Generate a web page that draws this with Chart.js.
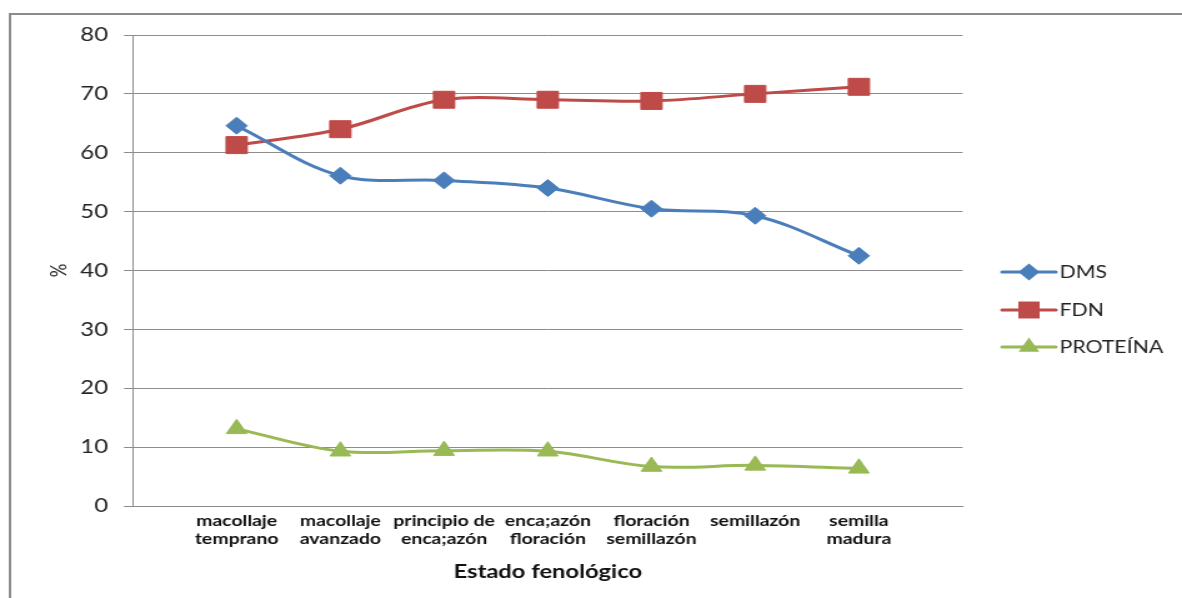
<!DOCTYPE html>
<html>
<head>
<meta charset="utf-8">
<title>Estado fenológico</title>
<script src="https://cdn.jsdelivr.net/npm/chart.js@4/dist/chart.umd.min.js"></script>
<style>
  html, body { margin: 0; padding: 0; background: #fff; overflow: hidden; }
  #wrap { width: 1182px; height: 598px; overflow: hidden; }
  #c { display: block; transform-origin: 0 0; transform: scaleX(1.2495); }
</style>
</head>
<body>
<div id="wrap"><canvas id="c" width="946" height="598" style="width:946px;height:598px"></canvas></div>
<script>
// Phenological stages (x axis)
const categories = [
  ['macollaje', 'temprano'],
  ['macollaje', 'avanzado'],
  ['principio de', 'enca;azón'],
  ['enca;azón', 'floración'],
  ['floración', 'semillazón'],
  'semillazón',
  ['semilla', 'madura']
];

// Series values, %
const dms      = [64.6, 56.1, 55.3, 54.0, 50.5, 49.3, 42.5];
const fdn      = [61.3, 64.0, 69.0, 69.0, 68.8, 70.0, 71.2];
const proteina = [13.1, 9.3, 9.4, 9.3, 6.7, 6.9, 6.4];

// Y axis ticks
const yTicks = [0, 10, 20, 30, 40, 50, 60, 70, 80];

const seriesNames = ['DMS', 'FDN', 'PROTEÍNA'];

// The axis runs tick-to-tick with an empty slot on each side of the stages
const labels = [''].concat(categories, ['']);
const pad = arr => [null].concat(arr, [null]);

const GRID = '#8c8c8c';

function markerPath(ctx, style, x, y, r) {
  ctx.beginPath();
  if (style === 'rectRot') {
    ctx.moveTo(x - r, y); ctx.lineTo(x, y - r); ctx.lineTo(x + r, y); ctx.lineTo(x, y + r);
  } else if (style === 'rect') {
    const s = r * Math.SQRT1_2;
    ctx.rect(x - s, y - s, 2 * s, 2 * s);
  } else {
    const h = Math.sqrt(3) / 2 * r;
    ctx.moveTo(x, y - r); ctx.lineTo(x + h, y + r / 2); ctx.lineTo(x - h, y + r / 2);
  }
  ctx.closePath();
}

const framePlugin = {
  id: 'frame',
  beforeDraw(chart) {
    const ctx = chart.ctx;
    ctx.save();
    ctx.fillStyle = '#fff';
    ctx.fillRect(0, 0, chart.width, chart.height);
    ctx.strokeStyle = GRID;
    ctx.lineWidth = 2;
    ctx.beginPath();
    ctx.moveTo(8, chart.height);
    ctx.lineTo(8, 14);
    ctx.lineTo(chart.width, 14);
    ctx.stroke();
    ctx.restore();
  }
};

const legendPlugin = {
  id: 'sideLegend',
  afterDraw(chart) {
    const ctx = chart.ctx;
    const ys = [272, 310, 347];
    ctx.save();
    chart.data.datasets.forEach((ds, i) => {
      const y = ys[i];
      ctx.strokeStyle = ds.borderColor;
      ctx.lineWidth = 3;
      ctx.lineCap = 'round';
      ctx.beginPath();
      ctx.moveTo(802, y);
      ctx.lineTo(845, y);
      ctx.stroke();
      ctx.fillStyle = ds.borderColor;
      markerPath(ctx, ds.pointStyle, 823.5, y, ds.pointRadius);
      ctx.fill();
      ctx.fillStyle = '#222';
      ctx.font = '17px Lato, "DejaVu Sans", sans-serif';
      ctx.textBaseline = 'middle';
      ctx.textAlign = 'left';
      ctx.fillText(ds.label, 848, y + 1);
    });
    ctx.restore();
  }
};

new Chart(document.getElementById('c'), {
  type: 'line',
  data: {
    labels: labels,
    datasets: [
      {
        label: seriesNames[0], data: pad(dms),
        borderColor: '#4A7EBB', backgroundColor: '#4A7EBB',
        pointStyle: 'rectRot', pointRadius: 8.5, pointBorderWidth: 1
      },
      {
        label: seriesNames[1], data: pad(fdn),
        borderColor: '#BE4B48', backgroundColor: '#BE4B48',
        pointStyle: 'rect', pointRadius: 12, pointBorderWidth: 1
      },
      {
        label: seriesNames[2], data: pad(proteina),
        borderColor: '#98B954', backgroundColor: '#98B954',
        pointStyle: 'triangle', pointRadius: 9.5, pointBorderWidth: 1
      }
    ].map(d => Object.assign(d, { borderWidth: 3, tension: 0.35, fill: false, spanGaps: false }))
  },
  options: {
    responsive: false,
    devicePixelRatio: 1,
    animation: false,
    layout: { padding: { top: 35, right: 175.6, bottom: 0, left: 0 } },
    plugins: { legend: { display: false }, tooltip: { enabled: false } },
    scales: {
      x: {
        type: 'category',
        offset: false,
        grid: { display: false, drawTicks: false },
        border: { display: true, color: GRID, width: 1 },
        ticks: {
          autoSkip: false, maxRotation: 0, minRotation: 0, padding: 6,
          color: '#111',
          font: { family: 'Lato, "Open Sans", sans-serif', size: 15.5, weight: 'bold', lineHeight: 1.17 }
        },
        title: {
          display: true, text: 'Estado fenológico', color: '#111',
          font: { family: 'Lato, "Open Sans", sans-serif', size: 19, weight: 'bold' },
          padding: { top: 0, bottom: 14.6 }
        },
        afterFit(scale) { scale.height = 92; }
      },
      y: {
        min: yTicks[0], max: yTicks[yTicks.length - 1],
        afterBuildTicks(scale) { scale.ticks = yTicks.map(v => ({ value: v })); },
        grid: { color: GRID, lineWidth: 1, tickLength: 7.2, tickColor: GRID },
        border: { display: true, color: GRID, width: 1 },
        ticks: {
          padding: 12.8, color: '#222',
          font: { family: 'Lato, "DejaVu Sans", sans-serif', size: 19 }
        },
        title: {
          display: true, text: '%', color: '#222',
          font: { family: 'Lato, "DejaVu Sans", sans-serif', size: 17 },
          padding: { top: 37.8, bottom: 0 }
        },
        afterFit(scale) { scale.width = 106.4; }
      }
    }
  },
  plugins: [framePlugin, legendPlugin]
});
</script>
</body>
</html>
